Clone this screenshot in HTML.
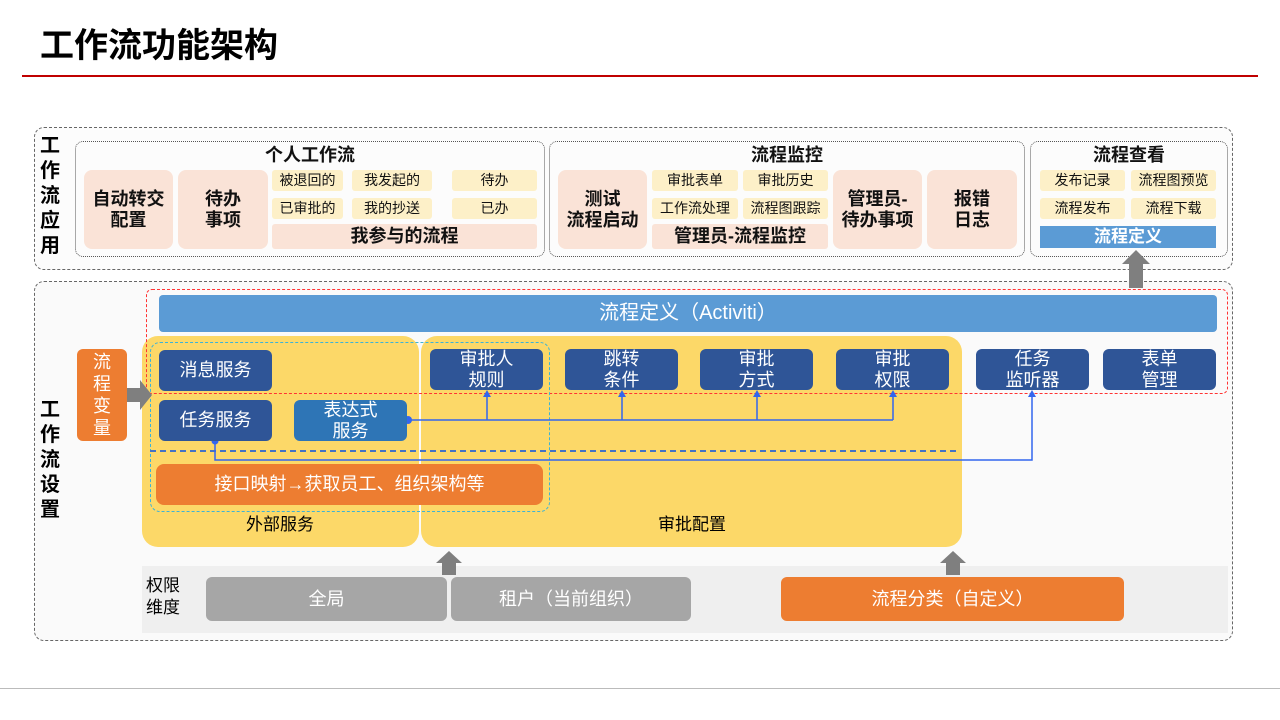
<!DOCTYPE html><html><head><meta charset="utf-8"><style>
body{margin:0;width:1280px;height:720px;background:#fff;position:relative;overflow:hidden;font-family:"Liberation Sans","Noto Sans CJK SC",sans-serif}
div{position:absolute;box-sizing:border-box}
.c{display:flex;align-items:center;justify-content:center;text-align:center;line-height:1.15}
.pk{background:#fae3d7;border-radius:8px;font-weight:bold;font-size:18px;color:#111}
.yl{background:#fdf0c8;border-radius:3px;font-size:14px;color:#111}
.db{background:#2f5597;color:#fff;border-radius:6px;font-size:18px}
.pt{font-weight:bold;font-size:18px;color:#111}
</style></head><body>
<div style="left:40px;top:18px;font-size:34px;font-weight:bold;color:#000">工作流功能架构</div>
<div style="left:22px;top:75px;width:1236px;height:2px;background:#c00000"></div>
<div style="left:0;top:688px;width:1280px;height:1px;background:#bbb"></div>

<div style="left:34px;top:127px;width:1199px;height:143px;border:1.5px dashed #666;border-radius:10px;background:#fcfcfc"></div>
<div style="left:40px;top:134px;width:22px;font-size:20px;font-weight:bold;line-height:25px">工作流应用</div>
<div style="left:75px;top:141px;width:470px;height:116px;border:1.5px dotted #555;border-radius:8px"></div>
<div style="left:549px;top:141px;width:476px;height:116px;border:1.5px dotted #555;border-radius:8px"></div>
<div style="left:1030px;top:141px;width:198px;height:116px;border:1.5px dotted #555;border-radius:8px"></div>
<div class="c pt" style="left:75px;top:143px;width:470px;height:24px">个人工作流</div>
<div class="c pt" style="left:549px;top:143px;width:476px;height:24px">流程监控</div>
<div class="c pt" style="left:1030px;top:143px;width:198px;height:24px">流程查看</div>
<div class="c pk" style="left:84px;top:170px;width:89px;height:79px">自动转交<br>配置</div>
<div class="c pk" style="left:178px;top:170px;width:90px;height:79px">待办<br>事项</div>
<div class="c yl" style="left:272px;top:170px;width:71px;height:21px">被退回的</div>
<div class="c yl" style="left:352px;top:170px;width:80px;height:21px">我发起的</div>
<div class="c yl" style="left:452px;top:170px;width:85px;height:21px">待办</div>
<div class="c yl" style="left:272px;top:198px;width:71px;height:21px">已审批的</div>
<div class="c yl" style="left:352px;top:198px;width:80px;height:21px">我的抄送</div>
<div class="c yl" style="left:452px;top:198px;width:85px;height:21px">已办</div>
<div class="c pk" style="left:272px;top:224px;width:265px;height:25px;border-radius:3px">我参与的流程</div>
<div class="c pk" style="left:558px;top:170px;width:89px;height:79px">测试<br>流程启动</div>
<div class="c yl" style="left:652px;top:170px;width:86px;height:21px">审批表单</div>
<div class="c yl" style="left:743px;top:170px;width:85px;height:21px">审批历史</div>
<div class="c yl" style="left:652px;top:198px;width:86px;height:21px">工作流处理</div>
<div class="c yl" style="left:743px;top:198px;width:85px;height:21px">流程图跟踪</div>
<div class="c pk" style="left:652px;top:224px;width:176px;height:25px;border-radius:3px">管理员-流程监控</div>
<div class="c pk" style="left:833px;top:170px;width:89px;height:79px">管理员-<br>待办事项</div>
<div class="c pk" style="left:927px;top:170px;width:90px;height:79px">报错<br>日志</div>
<div class="c yl" style="left:1040px;top:170px;width:85px;height:21px">发布记录</div>
<div class="c yl" style="left:1131px;top:170px;width:85px;height:21px">流程图预览</div>
<div class="c yl" style="left:1040px;top:198px;width:85px;height:21px">流程发布</div>
<div class="c yl" style="left:1131px;top:198px;width:85px;height:21px">流程下载</div>
<div class="c" style="left:1040px;top:226px;width:176px;height:22px;background:#5b9bd5;color:#fff;font-weight:bold;font-size:17px">流程定义</div>

<div style="left:34px;top:281px;width:1199px;height:360px;border:1.5px dashed #666;border-radius:10px;background:#fafafa"></div>
<div style="left:40px;top:398px;width:22px;font-size:20px;font-weight:bold;line-height:25px">工作流设置</div>
<div style="left:142px;top:566px;width:1086px;height:67px;background:#efefef"></div>
<div style="left:142px;top:336px;width:277px;height:211px;background:#fcd868;border-radius:16px"></div>
<div style="left:421px;top:336px;width:541px;height:211px;background:#fcd868;border-radius:16px"></div>
<div style="left:146px;top:289px;width:1082px;height:105px;border:1.2px dashed #f33;border-radius:6px"></div>
<div style="left:150px;top:342px;width:400px;height:170px;border:1.2px dashed #3bb3d8;border-radius:10px"></div>
<div class="c" style="left:159px;top:295px;width:1058px;height:37px;background:#5b9bd5;color:#fff;font-size:20px;border-radius:4px">流程定义（Activiti）</div>
<div class="c" style="left:77px;top:349px;width:50px;height:92px;background:#ed7d31;color:#fff;font-size:18px;border-radius:6px;line-height:22px">流<br>程<br>变<br>量</div>
<svg style="position:absolute;left:0;top:0" width="1280" height="720">
<polygon points="127,388 140,388 140,380 152,395 140,410 140,402 127,402" fill="#7f7f7f"/>
<polygon points="1129,288 1129,264 1122,264 1136,250 1150,264 1143,264 1143,288" fill="#7f7f7f"/>
<polygon points="442,575 442,563 436,563 449,551 462,563 456,563 456,575" fill="#7f7f7f"/>
<polygon points="946,575 946,563 940,563 953,551 966,563 960,563 960,575" fill="#7f7f7f"/>
<line x1="150" y1="451" x2="960" y2="451" stroke="#4472c4" stroke-width="2" stroke-dasharray="6,4"/>
<g stroke="#3366ee" stroke-width="1.5" fill="none">
<polyline points="215,441 215,460 1032,460 1032,394"/>
<line x1="407" y1="420" x2="893" y2="420"/>
<line x1="487" y1="420" x2="487" y2="394"/><line x1="622" y1="420" x2="622" y2="394"/>
<line x1="757" y1="420" x2="757" y2="394"/><line x1="893" y1="420" x2="893" y2="394"/>
</g>
<g fill="#3366ee"><circle cx="215" cy="441" r="3.5"/><circle cx="408" cy="420" r="4"/>
<polygon points="483,397 491,397 487,390"/><polygon points="618,397 626,397 622,390"/><polygon points="753,397 761,397 757,390"/><polygon points="889,397 897,397 893,390"/><polygon points="1028,397 1036,397 1032,390"/></g>
</svg>
<div class="c db" style="left:159px;top:350px;width:113px;height:41px">消息服务</div>
<div class="c db" style="left:159px;top:400px;width:113px;height:41px">任务服务</div>
<div class="c db" style="left:294px;top:400px;width:113px;height:41px;background:#2e75b6">表达式<br>服务</div>
<div class="c db" style="left:430px;top:349px;width:113px;height:41px">审批人<br>规则</div>
<div class="c db" style="left:565px;top:349px;width:113px;height:41px">跳转<br>条件</div>
<div class="c db" style="left:700px;top:349px;width:113px;height:41px">审批<br>方式</div>
<div class="c db" style="left:836px;top:349px;width:113px;height:41px">审批<br>权限</div>
<div class="c db" style="left:976px;top:349px;width:113px;height:41px">任务<br>监听器</div>
<div class="c db" style="left:1103px;top:349px;width:113px;height:41px">表单<br>管理</div>
<div class="c" style="left:156px;top:464px;width:387px;height:41px;background:#ed7d31;color:#fff;font-size:18px;border-radius:8px">接口映射→获取员工、组织架构等</div>
<div class="c" style="left:230px;top:513px;width:100px;height:24px;font-size:17px">外部服务</div>
<div class="c" style="left:642px;top:513px;width:100px;height:24px;font-size:17px">审批配置</div>
<div style="left:146px;top:575px;font-size:17px;line-height:22px">权限<br>维度</div>
<div class="c" style="left:206px;top:577px;width:241px;height:44px;background:#a6a6a6;color:#fff;font-size:18px;border-radius:6px">全局</div>
<div class="c" style="left:451px;top:577px;width:240px;height:44px;background:#a6a6a6;color:#fff;font-size:18px;border-radius:6px">租户（当前组织）</div>
<div class="c" style="left:781px;top:577px;width:343px;height:44px;background:#ed7d31;color:#fff;font-size:18px;border-radius:6px">流程分类（自定义）</div>
</body></html>
